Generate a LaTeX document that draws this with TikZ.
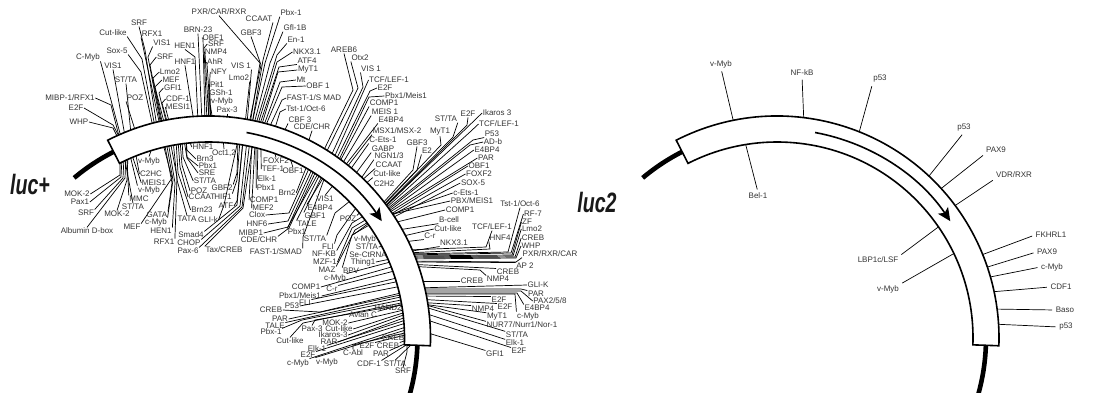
\documentclass[tikz,border=0pt]{standalone}
\usepackage{fontspec}
\setmainfont{Liberation Sans}
\usetikzlibrary{calc,arrows.meta}
\tikzset{
	site/.style={
		font=\fontsize{8}{8}\selectfont, inner sep=.5pt, text=black!80
	},
	site_line/.style={line width=.7pt, black},
	far_line/.style={site_line, shorten <=3pt},
	band_shape/.style={draw, fill=white, line width=1.6pt, line join=miter},
	tail_line/.style={line width=4.6pt, black},
	gene_arrow/.style={-{Stealth[length=13pt,width=12pt,inset=3pt]}, line width=1.6pt},
	name_label/.style={font=\fontsize{28}{28}\selectfont\bfseries\itshape, inner sep=0pt, text=black!90}
}
\begin{document}
\begin{tikzpicture}[x=1pt,y=-1pt]
	\useasboundingbox (0,0) rectangle (1110,392);
	\coordinate (L) at (208.5,338);
	\coordinate (R) at (777,338);
	\node[name_label] (lucplus) at (30,184) {\scalebox{.7}[1]{luc+}};
	\node[name_label] (luctwo) at (597,202) {\scalebox{.7}[1]{luc2}};
	\foreach \c in {L,R} {
		\draw[tail_line] ($(\c)+(230:209)$) arc[start angle=230,end angle=245,radius=209];
		\draw[tail_line] ($(\c)+(360:209)$) arc[start angle=360,end angle=376,radius=209];
	}
	\foreach \lab/\lx/\ly/\anc/\ex/\ey/\tx/\ty [count=\i] in {
		{MIBP-1/RFX1}/70/98/east/111/105/120/140,
		E2F/76/108/east/113/125/121/140,
		WHP/79/122/east/113/128/119/140,
		Sox-5/117/51/south east/141/72/153/127,
		Cut-like/113/33/south east/142/59/155/127,
		SRF/139/23/south/145/50/157/127,
		VIS1/162/43/south west/148/57/161/126,
		SRF/165/57/west/150/65/162/126,
		Lmo2/170/72/west/153/78/163/126,
		MEF/171/80/west/155/87/165/126,
		GFI1/173/88/west/159/93/167/125,
		CDF-1/178/99/west/162/103/168/125,
		HEN1/185/46/south/195/57/198/122,
		OBF1/213/38/west/203/38/205/122,
		SRF/216/44/west/204/48/207/122,
		NMP4/216/52/west/205/53/209/122,
		AhR/215/62/west/207/64/211/122,
		NFY/219/72/west/210/75/208/122,
		Pit1/217/85/west/209/88/209/122,
		GSh-1/221/93/west/210/95/211/122,
		GBF3/251/33/south/261/65/249/124,
		{PXR/CAR/RXR}/219/12/south/260/63/250/124,
		CCAAT/259/19/south east/263/60/252/124,
		Pbx-1/291/13/south west/265/63/252/124,
		Gfl-1B/295/28/south west/270/63/254/124,
		En-1/296/40/south west/277/55/256/124,
		NKX3.1/307/52/west/277/62/258/124,
		ATF4/307/61/south west/279/67/260/124,
		MyT1/308/70/west/278/72/262/124,
		Mt/301/80/west/280/82/264/125,
		{OBF 1}/318/86/west/282/87/266/125,
		{FAST-1/S MAD}/314/98/west/282/100/270/126,
		{Tst-1/Oct-6}/306/109/west/280/112/275/128,
		AREB6/344/50/south/353/90/322/154,
		Otx2/360/58/south west/358/88/325/155,
		{VIS 1}/371/69/south west/363/87/330/158,
		E2F/385/88/west/370/91/335/162,
		{Pbx1/Meis1}/406/96/west/369/97/337/164,
		GBF3/417/143/south/413/170/382/204,
		E2/427/151/south west/417/170/383/205,
		MyT1/440/132/south/441/145/384/205,
		{ST/TA}/446/119/south east/453/137/385/206,
		E2F/468/114/south/467/125/386/206,
		{TCF/LEF-1}/499/124/west/470/132/386/208,
		P53/492/134/south west/473/140/387/209,
		AD-b/493/142/west/470/145/388/210,
		{TCF/LEF-1}/492/227/south/486/247/406/250,
		HNF4/500/238/south west/490/249/406/253,
		{Tst-1/Oct-6}/520/204/south/508/252/406/254,
		RF-7/533/214/west/511/253/406/255,
		ZF/527/222/west/512/255/406/256,
		Lmo2/532/229/west/513/256/406/257,
		CREB/533/238/west/515/257/406/258,
		WHP/531/246/west/516/258/406/259,
		{PXR/RXR/CAR}/550/254/south west/516/262/406/261,
		NMP4/498/279/north west/480/270/406/266,
		PAR/536/294/north west/521/289/415/289,
		{PAX2/5/8}/550/301/west/521/291/415/291,
		E4BP4/537/308/north west/517/293/415/293,
		c-Myb/528/316/north west/515/294/415/294,
		MOK-2/77/194/east/120/175/120/160,
		Pax1/80/202/east/121/177/122/158,
		SRF/86/213/north east/123/178/124/157,
		{Albumin D-box}/87/231/north/125/178/126/155,
		MOK-2/117/214/north/127/180/128/155,
		MEF/132/227/north east/172/178/162/140,
		GATA/157/215/north east/172/183/164/141,
		c-Myb/156/222/north east/173/180/166/141,
		HEN1/161/231/north east/175/183/168/141,
		RFX1/164/242/north east/177/177/170/140,
		TATA/187/219/north/177/180/173/140,
		Brn23/202/210/west/178/173/176/140,
		CCAAT/202/197/west/180/167/178/140,
		POZ/199/191/west/182/165/180/140,
		{ST/TA}/205/181/west/183/157/182/140,
		SRE/207/173/west/187/158/184/140,
		Pbx1/208/166/west/187/157/186/140,
		Brn3/205/159/west/187/150/186/138,
		HIF1/223/197/north east/237/180/240/140,
		GBF2/222/188/north east/237/173/238/140,
		ATF/226/206/east/237/201/243/140,
		Smad4/191/235/north east/237/205/243/140,
		CHOP/189/243/north east/240/206/247/140,
		Pax-6/188/251/north east/242/207/250/140,
		{Tax/CREB}/224/250/north west/243/208/253/142,
		GLI-k/208/220/east/224/205/238/140,
		Clox/257/215/east/289/213/311/164,
		HNF6/257/224/east/288/221/314/165,
		MIBP1/251/233/east/288/227/316/166,
		{CDE/CHR}/259/240/north east/289/228/318/167,
		{FAST-1/SMAD}/276/252/north east/303/237/326/174,
		{ST/TA}/315/239/north east/335/213/355/197,
		FLI/328/247/north east/337/235/358/205,
		NF-KB/324/254/north east/352/223/370/212,
		MZF-1/325/262/east/352/228/372/216,
		MAZ/327/270/north east/355/230/375/218,
		BPV/351/271/north west/352/235/378/220,
		v-Myb/365/239/north west/357/232/377/217,
		CREB/271/310/east/320/312/405/292,
		Pbx-1/271/332/north east/302/320/406/299,
		Cut-like/290/341/north/303/323/406/302,
		Pax-3/312/329/north/315/320/407/304,
		C-Abl/353/353/north/353/345/409/332,
		SRF/403/371/north/407/352/407/342
	} {
		\node[site] (s\i) at (\lx,\ly) {\lab};
		\coordinate (e\i) at (\ex,\ey);
		\coordinate (t\i) at (\tx,\ty);
		\draw[site_line] (s\i.\anc) -- (e\i) -- (t\i);
	}
	\foreach \lab/\lx/\ly/\anc/\tx/\ty [count=\i] in {
		C-Myb/88/57/south east/121/137,
		VIS1/113/66/south/125/136,
		{ST/TA}/126/80/south/131/134,
		POZ/135/98/south west/136/133,
		RFX1/152/34/south west/160/126,
		MESI1/178/107/west/170/125,
		BRN-23/198/30/south/202/122,
		HNF1/185/62/south/194/122,
		v-Myb/222/101/south west/213/122,
		Pax-3/227/110/south/227/122,
		{VIS 1}/241/66/south east/247/124,
		Lmo2/239/78/south east/245/124,
		{CBF 3}/300/120/south west/283/134,
		{CDE/CHR}/312/127/south/308/143,
		{TCF/LEF-1}/389/80/west/333/160,
		COMP1/384/103/south west/338/165,
		{MEIS 1}/385/112/south west/341/166,
		E4BP4/391/120/south west/344/167,
		{MSX1/MSX-2}/397/131/south west/347/167,
		C-Ets-1/383/140/south west/350/170,
		GABP/383/149/south west/354/176,
		{NGN1/3}/389/156/south west/360/180,
		CCAAT/389/165/south west/360/182,
		Cut-like/387/174/south west/364/185,
		C2H2/384/184/south west/372/194,
		{Ikaros 3}/497/113/west/385/207,
		E4BP4/487/150/west/389/211,
		PAR/486/158/west/390/212,
		OBF1/479/166/west/391/214,
		FOXF2/479/174/west/391/216,
		SOX-5/473/183/west/392/218,
		c-Ets-1/466/193/west/392/214,
		{PBX/MEIS1}/472/201/west/393/214,
		COMP1/460/210/west/393/223,
		B-cell/449/220/south west/398/230,
		Cut-like/448/229/west/399/237,
		C-r/430/236/south west/403/242,
		NKX3.1/454/243/south west/406/252,
		{AP 2}/525/266/north west/406/262,
		CREB/508/272/north west/406/264,
		CREB/472/281/west/415/281,
		GLI-K/538/285/west/415/288,
		E2F/499/300/north west/415/296,
		E2F/505/307/north west/415/299,
		NMP4/483/309/north west/415/302,
		MyT1/497/317/north west/415/303,
		{NUR77/Nurr1/Nor-1}/522/325/north west/415/302,
		{ST/TA}/517/335/north west/415/304,
		Elk-1/515/343/north west/415/310,
		E2F/519/351/north west/415/316,
		GFI1/495/354/north west/415/329,
		{ST/TA}/133/207/north/124/155,
		MMC/139/199/north west/127/158,
		v-Myb/149/190/north west/130/155,
		MEIS1/154/183/west/132/155,
		C2HC/151/174/west/135/150,
		v-Myb/149/161/north/152/148,
		HNF1/203/147/west/188/138,
		{Oct1,2}/224/153/north/223/138,
		COMP1/264/200/west/252/142,
		MEF2/263/208/west/255/143,
		Pbx1/266/188/west/256/143,
		Elk-1/267/179/west/258/143,
		TEF-1/273/169/west/261/145,
		FOXF2/276/161/north/273/147,
		OBF1/293/171/north/289/155,
		Brn2/287/193/east/308/163,
		Pbx1/297/232/north west/320/170,
		TALE/307/224/north west/322/170,
		GBF1/315/216/north west/325/170,
		E4BP4/320/208/north west/328/170,
		VIS1/325/199/north/335/183,
		POZ/348/219/north east/364/208,
		{ST/TA}/367/247/east/392/244,
		Se-CtRNA/368/255/east/393/250,
		Thing1/363/262/east/395/258,
		c-Myb/335/278/north east/398/260,
		COMP1/306/287/east/402/264,
		C-r/332/289/north east/402/269,
		{Pbx1/Meis1}/300/296/east/405/276,
		FLI/305/303/north east/405/280,
		P53/292/306/east/407/285,
		PAR/280/319/east/405/294,
		TALE/275/326/north east/405/296,
		HAND2/388/308/east/408/307,
		{Avian C}/363/315/north east/408/303,
		MOK-2/335/323/east/408/309,
		Cut-like/339/329/east/409/311,
		Ikaros-3/333/335/east/409/313,
		RAR/329/342/east/409/316,
		Elk-1/317/349/north east/409/319,
		E2F/308/355/north east/409/322,
		c-Myb/298/363/north east/409/326,
		v-Myb/327/362/north west/409/329,
		E2F/367/346/north east/409/334,
		CREB/393/338/east/410/336,
		CREB/388/346/north east/410/339,
		PAR/381/354/north east/411/341,
		CDF-1/369/364/north east/411/342,
		{ST/TA}/395/364/north/413/343
	} {
		\node[site] (n\i) at (\lx,\ly) {\lab};
		\coordinate (m\i) at (\tx,\ty);
		\draw[site_line] (n\i.\anc) -- (m\i);
	}
	\foreach \lab/\lx/\ly/\anc/\tx/\ty [count=\i] in {
		v-Myb/721/64/south/735/128,
		NF-kB/802/73/south/804/125,
		p53/880/79/south west/857/140,
		Bel-1/758/196/north/744/138,
		p53/964/128/south/925/181,
		PAX9/996/150/south west/938/191,
		{VDR/RXR}/1014/175/south west/950/209,
		FKHRL1/1051/235/west/976/257,
		PAX9/1047/252/west/981/269,
		c-Myb/1052/267/west/985/278,
		CDF1/1061/287/west/990/292,
		Baso/1065/310/west/992/309,
		p53/1066/327/west/992/324,
		{LBP1c/LSF}/878/260/north east/945/222,
		v-Myb/888/289/north east/960/250
	} {
		\node[site] (f\i) at (\lx,\ly) {\lab};
		\coordinate (g\i) at (\tx,\ty);
		\draw[far_line] (f\i.\anc) -- (g\i);
	}
	\foreach \c in {L,R} {
		\draw[band_shape] ($(\c)+(243:222)$) arc[start angle=243,end angle=362,radius=222]
			-- ($(\c)+(362:196)$) arc[start angle=362,end angle=243,radius=196] -- cycle;
		\draw[gene_arrow] ($(\c)+(280.5:209)$) arc[start angle=280.5,end angle=326,radius=209];
	}
\end{tikzpicture}
\end{document}
